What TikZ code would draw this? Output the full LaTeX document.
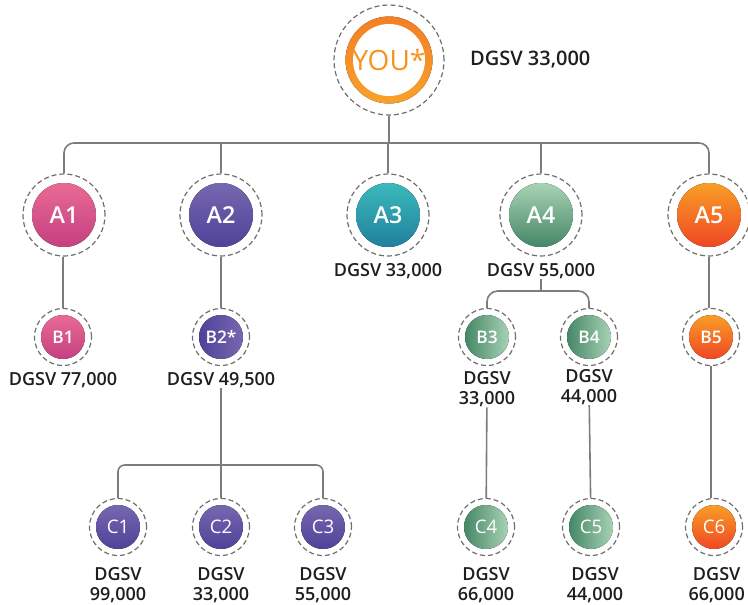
\documentclass[tikz,border=0pt]{standalone}
\usepackage{fontspec}
\setmainfont{Open Sans}[BoldFont={Open Sans Semibold}]
\usetikzlibrary{positioning}

\definecolor{linkgray}{HTML}{7C7C7C}
\definecolor{dashgray}{HTML}{6E6E6E}
\definecolor{txtdark}{HTML}{1E1E1E}
\definecolor{youorange}{HTML}{F7931E}
\definecolor{ringtop}{HTML}{F47A22}
\definecolor{ringbot}{HTML}{F9A62C}
\definecolor{pinktop}{HTML}{EE7098}
\definecolor{pinkbot}{HTML}{BF3A7D}
\definecolor{purtop}{HTML}{7B6DB3}
\definecolor{purbot}{HTML}{4B3C95}
\definecolor{tealtop}{HTML}{3EC1C0}
\definecolor{tealbot}{HTML}{1D7898}
\definecolor{grnlight}{HTML}{B6DDC0}
\definecolor{grndark}{HTML}{367C5B}
\definecolor{orgtop}{HTML}{FAAA26}
\definecolor{orgbot}{HTML}{EE3A24}

\tikzset{every picture/.style={line width=0.75pt},
  link/.style={draw=linkgray, line width=1.2pt},
  dashring/.style={circle, draw=dashgray, dash pattern=on 3.75pt off 2.25pt, line width=0.9pt, inner sep=0pt, text=white},
  abig/.style={dashring, minimum size=61.5pt, font=\fontsize{17.5}{20}\selectfont\bfseries},
  bsmall/.style={dashring, minimum size=42.75pt, font=\fontsize{13}{15}\selectfont\bfseries},
  csmall/.style={dashring, minimum size=42.75pt, font=\fontsize{14}{16}\selectfont},
  vball/.style n args={3}{path picture={\fill[top color=#1, bottom color=#2] (path picture bounding box.center) circle[radius=#3];}},
  hball/.style n args={3}{path picture={\fill[left color=#1, right color=#2] (path picture bounding box.center) circle[radius=#3];}},
  val/.style={inner sep=0pt, text=txtdark, align=center, font=\fontsize{13.5}{15}\selectfont\bfseries}
}

\begin{document}
\begin{tikzpicture}[x=0.75pt,y=0.75pt,yscale=-1,xscale=1]
\useasboundingbox (0,0) rectangle (748,604);

%Shape: Circle
\node[dashring, minimum size=82.5pt, text=youorange, font=\fontsize{21}{24}\selectfont,
  path picture={\fill[top color=ringtop, bottom color=ringbot] (path picture bounding box.center) circle[radius=32.6pt];
    \fill[white] (path picture bounding box.center) circle[radius=27pt];}] (you) at (389,60) {YOU*};
% Text Node
\node[val, font=\fontsize{15}{18}\selectfont\bfseries, right=18.75pt of you] (vyou) {DGSV 33,000};

%Shape: Circle
\node[abig, vball={pinktop}{pinkbot}{24pt}] (a1) at (64,215) {A1};
\node[abig, vball={purtop}{purbot}{24pt}] (a2) at (221,215) {A2};
\node[abig, vball={tealtop}{tealbot}{24pt}] (a3) at (388,215) {A3};
\node[abig, vball={grnlight}{grndark}{24pt}] (a4) at (541,215) {A4};
\node[abig, vball={orgtop}{orgbot}{24pt}] (a5) at (709,215) {A5};

%Shape: Circle
\node[bsmall, vball={pinktop}{pinkbot}{16.5pt}] (b1) at (63,337) {B1};
\node[bsmall, hball={purbot}{purtop}{16.5pt}] (b2) at (221,337) {B2*};
\node[bsmall, hball={grndark}{grnlight}{16.5pt}] (b3) at (487,337) {B3};
\node[bsmall, hball={grndark}{grnlight}{16.5pt}] (b4) at (589,337) {B4};
\node[bsmall, vball={orgtop}{orgbot}{16.5pt}] (b5) at (711,337) {B5};

%Shape: Circle
\node[csmall, vball={purtop}{purbot}{16.5pt}] (c1) at (118,527) {C1};
\node[csmall, vball={purtop}{purbot}{16.5pt}] (c2) at (221,527) {C2};
\node[csmall, vball={purtop}{purbot}{16.5pt}] (c3) at (323,527) {C3};
\node[csmall, hball={grndark}{grnlight}{16.5pt}] (c4) at (486,527) {C4};
\node[csmall, hball={grndark}{grnlight}{16.5pt}] (c5) at (591,527) {C5};
\node[csmall, vball={orgtop}{orgbot}{16.5pt}] (c6) at (714,527) {C6};

% Text Node
\node[val, below=4.5pt of a3] (va3) {DGSV 33,000};
\node[val, below=4.5pt of a4] (va4) {DGSV 55,000};
\node[val, below=4.5pt of b1] (vb1) {DGSV 77,000};
\node[val, below=4.5pt of b2] (vb2) {DGSV 49,500};
\node[val, below=3.75pt of b3] (vb3) {DGSV\\33,000};
\node[val, below=2pt of b4] (vb4) {DGSV\\44,000};
\node[val, below=8pt of c1] (vc1) {DGSV\\99,000};
\node[val, below=8pt of c2] (vc2) {DGSV\\33,000};
\node[val, below=8pt of c3] (vc3) {DGSV\\55,000};
\node[val, below=8pt of c4] (vc4) {DGSV\\66,000};
\node[val, below=8pt of c5, xshift=3pt] (vc5) {DGSV\\44,000};
\node[val, below=8pt of c6, xshift=2pt] (vc6) {DGSV\\66,000};

%Straight Lines
\coordinate (bus) at (389,143);
\draw[link, rounded corners=7.5pt] (a1.north) |- (bus) -| (a5.north);
\draw[link] (you) -- (you |- bus);
\draw[link] (a2) -- (a2 |- bus);
\draw[link] (a3) -- (a3 |- bus);
\draw[link] (a4) -- (a4 |- bus);
\draw[link] (b1) -- (b1 |- a1.south);
\draw[link] (a2) -- (b2);
\draw[link] (a5) -- (a5 |- b5.north);
%Straight Lines
\coordinate (bus2) at (541,291);
\draw[link] (va4) -- (bus2);
\draw[link, rounded corners=8pt] (b3.north) |- (bus2) -| (b4.north);
%Straight Lines
\coordinate (bus3) at (221,465);
\draw[link] (vb2) -- (c2);
\draw[link, rounded corners=5pt] (c1.north) |- (bus3) -| (c3.north);
\draw[link] (vb3) -- (c4);
\draw[link] (vb4) -- (c5);
\draw[link] (b5) -- (b5 |- c6.north);

\end{tikzpicture}
\end{document}
